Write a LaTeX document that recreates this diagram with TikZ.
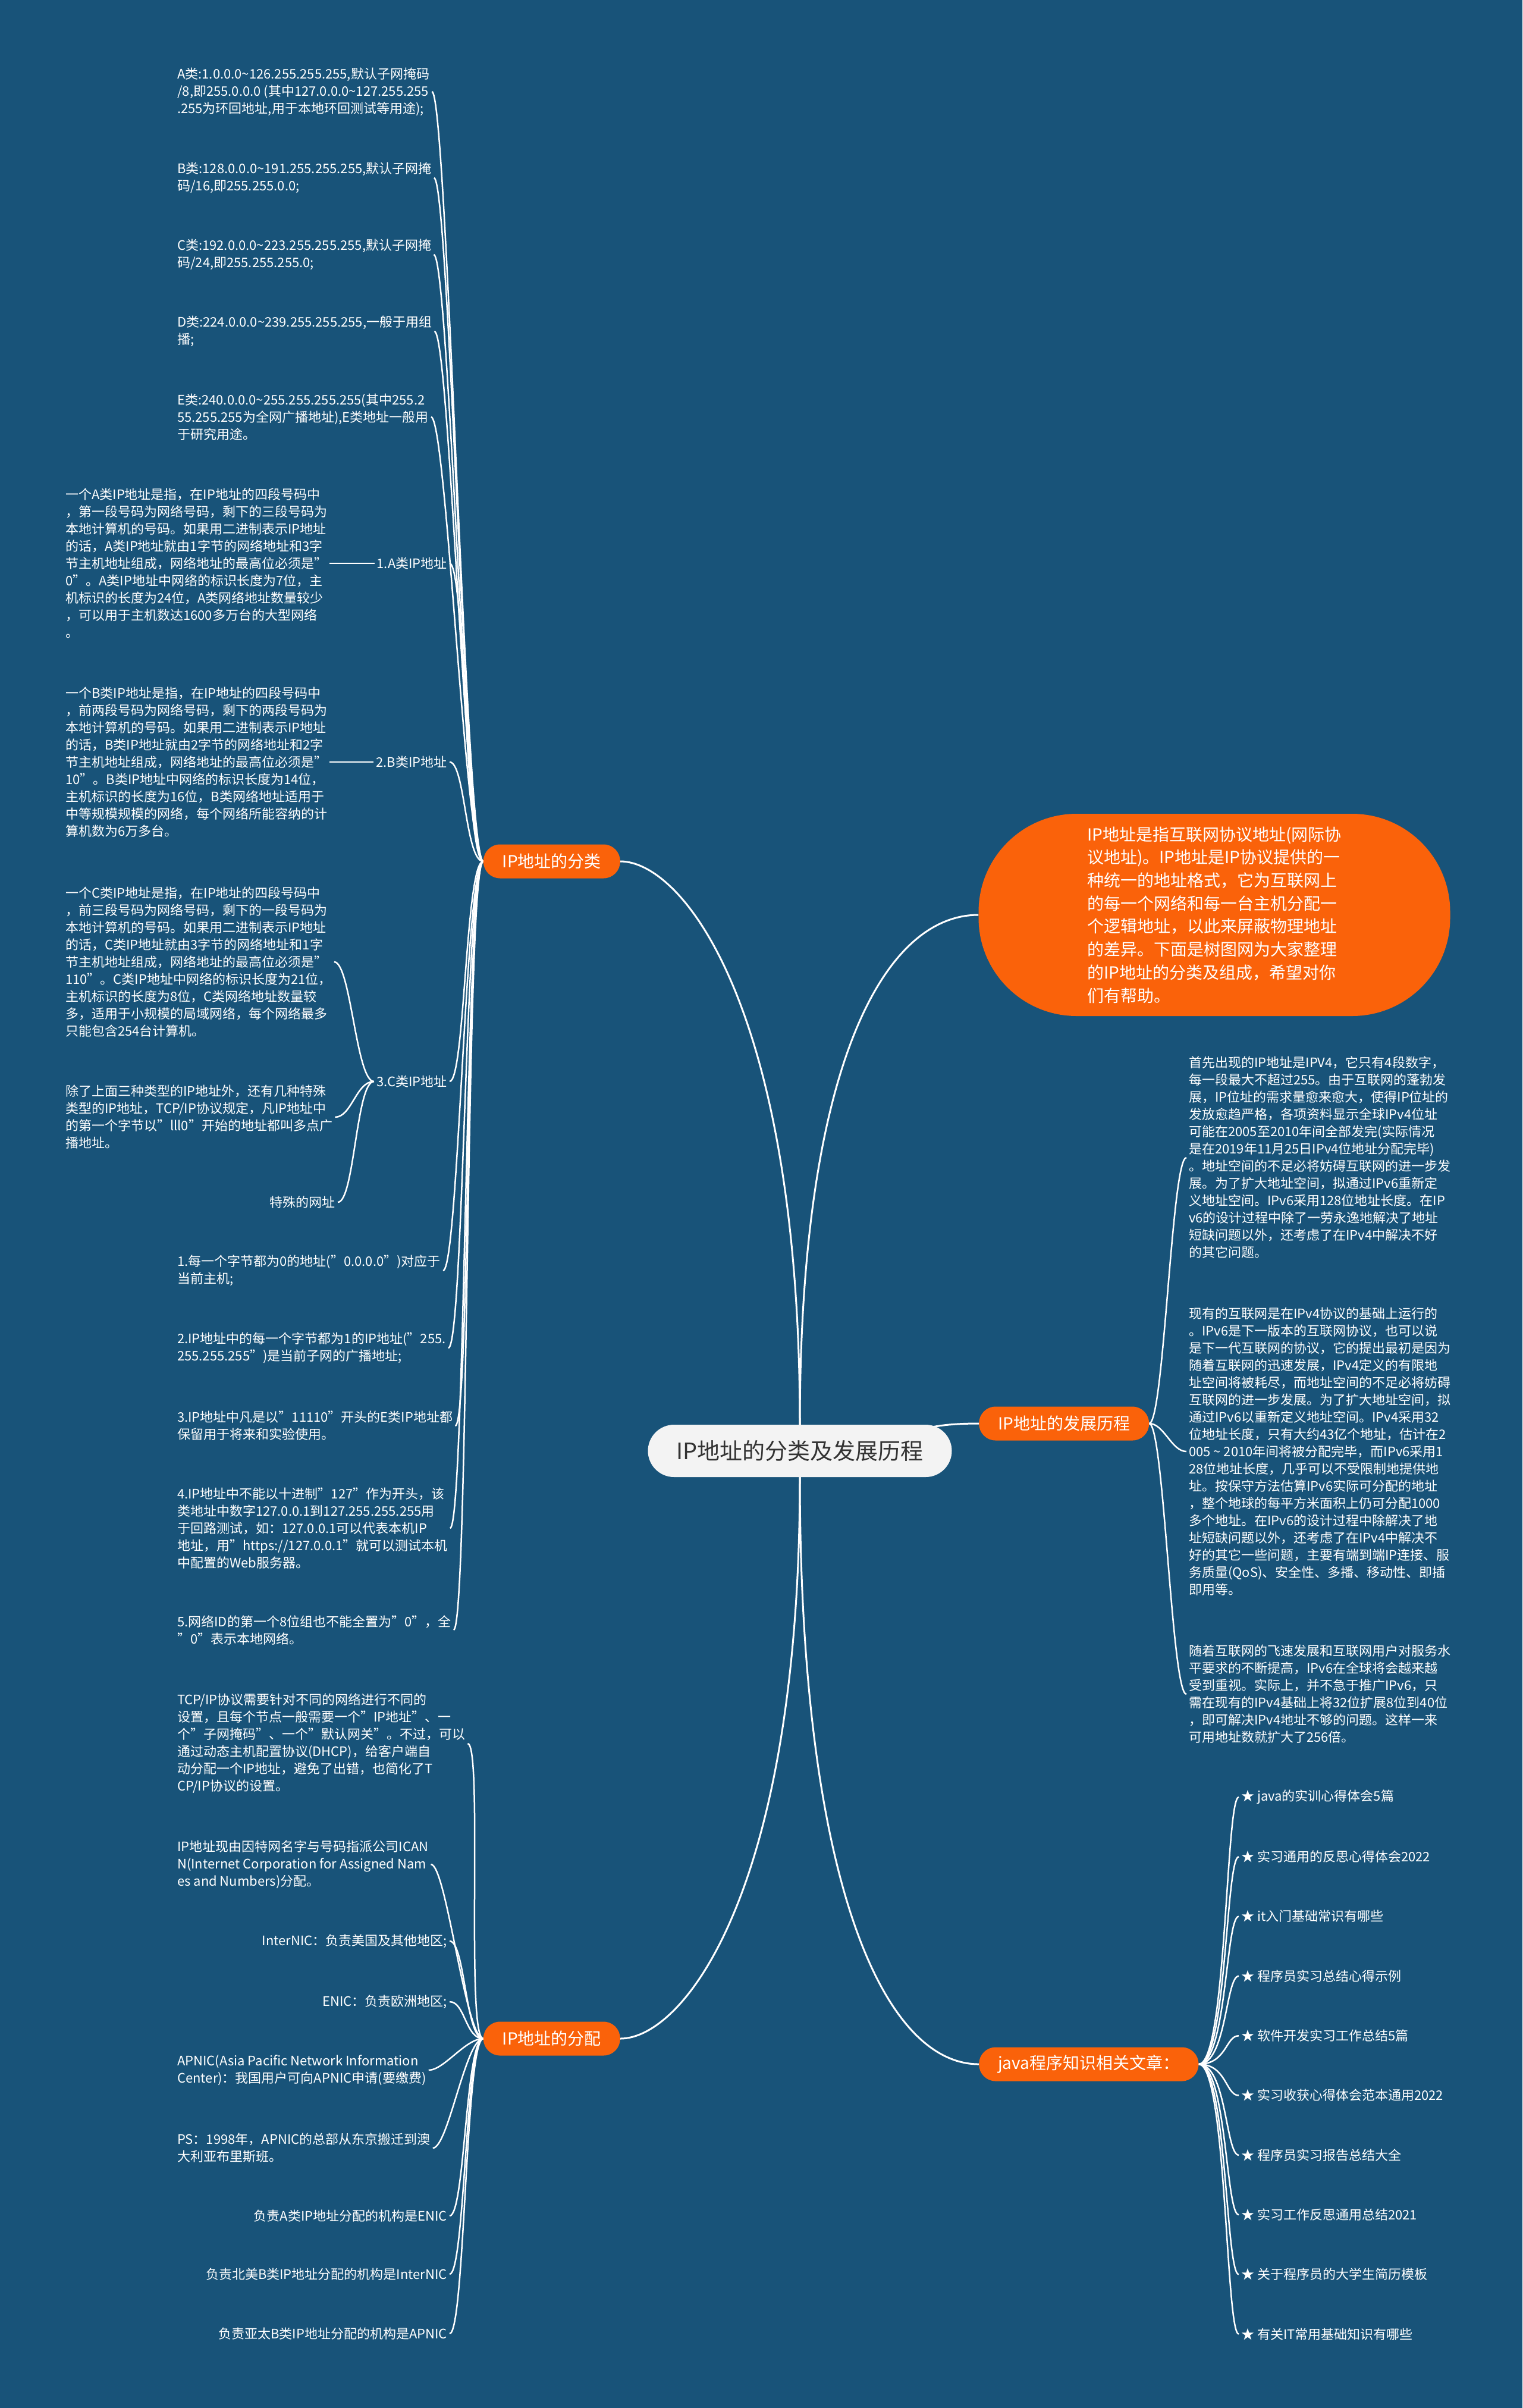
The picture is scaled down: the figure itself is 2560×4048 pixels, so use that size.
\documentclass[tikz,border=0pt]{standalone}
\usepackage{fontspec}
\setmainfont{Noto Sans CJK SC}
\usepackage{xcolor}
\usetikzlibrary{calc}
\definecolor{mapBlue}{RGB}{24,83,121}
\definecolor{mapOrange}{RGB}{250,98,10}
\definecolor{rootGray}{RGB}{243,243,243}
\definecolor{rootInk}{RGB}{51,51,51}
\newcommand{\tild}{\textasciitilde}
\pgfdeclarelayer{paper}
\pgfdeclarelayer{wires}
\pgfsetlayers{paper,wires,main}

\begin{document}
\begin{tikzpicture}[x=1pt,y=-1pt,
  leaf/.style={text=white,inner sep=4pt,font=\fontsize{22}{29}\selectfont},
  leafL/.style={leaf,anchor=west,align=left},
  leafR/.style={leaf,anchor=east,align=right},
  branch/.style={fill=mapOrange,text=white,rounded corners=28pt,minimum height=57pt,
    inner xsep=32pt,inner ysep=6pt,font=\fontsize{28}{34}\selectfont},
  link/.style={draw=white,line width=2.5pt},
  trunk/.style={draw=white,line width=3pt}]
\useasboundingbox (0,0) rectangle (2560,4048);
\begin{pgfonlayer}{paper}
  \fill[mapBlue] (0,0) rectangle (2560,4048);
\end{pgfonlayer}

% root and main branches
\node[fill=rootGray,text=rootInk,rounded corners=44pt,minimum width=511pt,minimum height=88pt,
  font=\fontsize{38}{44}\selectfont] (root) at (1345,2439) {IP地址的分类及发展历程};
\node[branch,anchor=east] (cls) at (1043,1448) {IP地址的分类};
\node[branch,anchor=east] (alloc) at (1043,3427) {IP地址的分配};
\node[branch,anchor=west] (hist) at (1646,2393) {IP地址的发展历程};
\node[branch,anchor=west] (java) at (1646,3470) {java程序知识相关文章：};
\node[fill=mapOrange,text=white,rounded corners=165pt,minimum width=793pt,minimum height=340pt,
  align=left,font=\fontsize{28}{38.7}\selectfont] (intro) at (2042,1538) {IP地址是指互联网协议地址(网际协\\议地址)。IP地址是IP协议提供的一\\种统一的地址格式，它为互联网上\\的每一个网络和每一台主机分配一\\个逻辑地址，以此来屏蔽物理地址\\的差异。下面是树图网为大家整理\\的IP地址的分类及组成，希望对你\\们有帮助。};

% classes of addresses
\node[leafL] (clsA) at (294,154) {A类:1.0.0.0\tild 126.255.255.255,默认子网掩码\\/8,即255.0.0.0 (其中127.0.0.0\tild 127.255.255\\.255为环回地址,用于本地环回测试等用途);};
\node[leafL] (clsB) at (294,299) {B类:128.0.0.0\tild 191.255.255.255,默认子网掩\\码/16,即255.255.0.0;};
\node[leafL] (clsC) at (294,428) {C类:192.0.0.0\tild 223.255.255.255,默认子网掩\\码/24,即255.255.255.0;};
\node[leafL] (clsD) at (294,557) {D类:224.0.0.0\tild 239.255.255.255,一般于用组\\播;};
\node[leafL] (clsE) at (294,701) {E类:240.0.0.0\tild 255.255.255.255(其中255.2\\55.255.255为全网广播地址),E类地址一般用\\于研究用途。};
\node[leafR] (typeA) at (756,947) {1.A类IP地址};
\node[leafL] (descA) at (106,947) {一个A类IP地址是指，在IP地址的四段号码中\\，第一段号码为网络号码，剩下的三段号码为\\本地计算机的号码。如果用二进制表示IP地址\\的话，A类IP地址就由1字节的网络地址和3字\\节主机地址组成，网络地址的最高位必须是"\\0"。A类IP地址中网络的标识长度为7位，主\\机标识的长度为24位，A类网络地址数量较少\\，可以用于主机数达1600多万台的大型网络\\。};
\node[leafR] (typeB) at (756,1281) {2.B类IP地址};
\node[leafL] (descB) at (106,1281) {一个B类IP地址是指，在IP地址的四段号码中\\，前两段号码为网络号码，剩下的两段号码为\\本地计算机的号码。如果用二进制表示IP地址\\的话，B类IP地址就由2字节的网络地址和2字\\节主机地址组成，网络地址的最高位必须是"\\10"。B类IP地址中网络的标识长度为14位，\\主机标识的长度为16位，B类网络地址适用于\\中等规模规模的网络，每个网络所能容纳的计\\算机数为6万多台。};
\node[leafR] (typeC) at (756,1818) {3.C类IP地址};
\node[leafL] (descC) at (106,1617) {一个C类IP地址是指，在IP地址的四段号码中\\，前三段号码为网络号码，剩下的一段号码为\\本地计算机的号码。如果用二进制表示IP地址\\的话，C类IP地址就由3字节的网络地址和1字\\节主机地址组成，网络地址的最高位必须是"\\110"。C类IP地址中网络的标识长度为21位，\\主机标识的长度为8位，C类网络地址数量较\\多，适用于小规模的局域网络，每个网络最多\\只能包含254台计算机。};
\node[leafL] (multi) at (106,1878) {除了上面三种类型的IP地址外，还有几种特殊\\类型的IP地址，TCP/IP协议规定，凡IP地址中\\的第一个字节以"lll0"开始的地址都叫多点广\\播地址。};
\node[leafR] (special) at (568,2021) {特殊的网址};
\node[leafL] (rule1) at (294,2136) {1.每一个字节都为0的地址("0.0.0.0")对应于\\当前主机;};
\node[leafL] (rule2) at (294,2266) {2.IP地址中的每一个字节都为1的IP地址("255.\\255.255.255")是当前子网的广播地址;};
\node[leafL] (rule3) at (294,2397) {3.IP地址中凡是以"11110"开头的E类IP地址都\\保留用于将来和实验使用。};
\node[leafL] (rule4) at (294,2569) {4.IP地址中不能以十进制"127"作为开头，该\\类地址中数字127.0.0.1到127.255.255.255用\\于回路测试，如：127.0.0.1可以代表本机IP\\地址，用"https://127.0.0.1"就可以测试本机\\中配置的Web服务器。};
\node[leafL] (rule5) at (294,2740) {5.网络ID的第一个8位组也不能全置为"0"，全\\"0"表示本地网络。};

% allocation
\node[leafL] (tcp) at (294,2931) {TCP/IP协议需要针对不同的网络进行不同的\\设置，且每个节点一般需要一个"IP地址"、一\\个"子网掩码"、一个"默认网关"。不过，可以\\通过动态主机配置协议(DHCP)，给客户端自\\动分配一个IP地址，避免了出错，也简化了T\\CP/IP协议的设置。};
\node[leafL] (icann) at (294,3134) {IP地址现由因特网名字与号码指派公司ICAN\\N(Internet Corporation for Assigned Nam\\es and Numbers)分配。};
\node[leafR] (internic) at (756,3263) {InterNIC：负责美国及其他地区;};
\node[leafR] (enic) at (756,3365) {ENIC：负责欧洲地区;};
\node[leafL] (apnic) at (294,3480) {APNIC(Asia Pacific Network Information\\Center)：我国用户可向APNIC申请(要缴费)};
\node[leafL] (ps) at (294,3611) {PS：1998年，APNIC的总部从东京搬迁到澳\\大利亚布里斯班。};
\node[leafR] (orgA) at (756,3725) {负责A类IP地址分配的机构是ENIC};
\node[leafR] (orgB) at (756,3823) {负责北美B类IP地址分配的机构是InterNIC};
\node[leafR] (orgC) at (756,3923) {负责亚太B类IP地址分配的机构是APNIC};

% history
\node[leafL] (histA) at (1995,1946) {首先出现的IP地址是IPV4，它只有4段数字，\\每一段最大不超过255。由于互联网的蓬勃发\\展，IP位址的需求量愈来愈大，使得IP位址的\\发放愈趋严格，各项资料显示全球IPv4位址\\可能在2005至2010年间全部发完(实际情况\\是在2019年11月25日IPv4位地址分配完毕)\\。地址空间的不足必将妨碍互联网的进一步发\\展。为了扩大地址空间，拟通过IPv6重新定\\义地址空间。IPv6采用128位地址长度。在IP\\v6的设计过程中除了一劳永逸地解决了地址\\短缺问题以外，还考虑了在IPv4中解决不好\\的其它问题。};
\node[leafL] (histB) at (1995,2440) {现有的互联网是在IPv4协议的基础上运行的\\。IPv6是下一版本的互联网协议，也可以说\\是下一代互联网的协议，它的提出最初是因为\\随着互联网的迅速发展，IPv4定义的有限地\\址空间将被耗尽，而地址空间的不足必将妨碍\\互联网的进一步发展。为了扩大地址空间，拟\\通过IPv6以重新定义地址空间。IPv4采用32\\位地址长度，只有大约43亿个地址，估计在2\\005 \tild{} 2010年间将被分配完毕，而IPv6采用1\\28位地址长度，几乎可以不受限制地提供地\\址。按保守方法估算IPv6实际可分配的地址\\，整个地球的每平方米面积上仍可分配1000\\多个地址。在IPv6的设计过程中除解决了地\\址短缺问题以外，还考虑了在IPv4中解决不\\好的其它一些问题，主要有端到端IP连接、服\\务质量(QoS)、安全性、多播、移动性、即插\\即用等。};
\node[leafL] (histC) at (1995,2848) {随着互联网的飞速发展和互联网用户对服务水\\平要求的不断提高，IPv6在全球将会越来越\\受到重视。实际上，并不急于推广IPv6，只\\需在现有的IPv4基础上将32位扩展8位到40位\\，即可解决IPv4地址不够的问题。这样一来\\可用地址数就扩大了256倍。};

% related articles
\foreach \txt [count=\i] in {java的实训心得体会5篇,实习通用的反思心得体会2022,it入门基础常识有哪些,
  程序员实习总结心得示例,软件开发实习工作总结5篇,实习收获心得体会范本通用2022,程序员实习报告总结大全,
  实习工作反思通用总结2021,关于程序员的大学生简历模板,有关IT常用基础知识有哪些}
  \node[leafL] (art\i) at (2083,{3021+100.3*(\i-1)}) {★ \txt};

\begin{pgfonlayer}{wires}
  \draw[trunk] (root.north) .. controls +(0,-695) and +(107,0) .. (cls.east);
  \draw[trunk] (root.north) .. controls +(0,-600) and +(-160,0) .. (intro.west);
  \draw[trunk] (root.south) .. controls +(0,695) and +(107,0) .. (alloc.east);
  \draw[trunk] (root.south) .. controls +(0,680) and +(-160,0) .. (java.west);
  \draw[trunk] (root.center) .. controls +(215,0) and +(-160,0) .. (hist.west);
  \foreach \kid in {clsA,clsB,clsC,clsD,clsE,typeA,typeB,typeC,rule1,rule2,rule3,rule4,rule5}
    \draw[link] (cls.west) .. controls +(-30,0) and +(26,0) .. (\kid.east);
  \draw[link] (typeA.west) -- (descA.east);
  \draw[link] (typeB.west) -- (descB.east);
  \foreach \kid in {descC,multi,special}
    \draw[link] (typeC.west) .. controls +(-30,0) and +(28,0) .. (\kid.east);
  \foreach \kid in {tcp,icann,internic,enic,apnic,ps,orgA,orgB,orgC}
    \draw[link] (alloc.west) .. controls +(-30,0) and +(26,0) .. (\kid.east);
  \foreach \kid in {histA,histB,histC}
    \draw[link] (hist.east) .. controls +(25,0) and +(-25,0) .. (\kid.west);
  \foreach \i in {1,...,10}
    \draw[link] (java.east) .. controls +(47,0) and +(-22,0) .. (art\i.west);
\end{pgfonlayer}
\end{tikzpicture}
\end{document}
